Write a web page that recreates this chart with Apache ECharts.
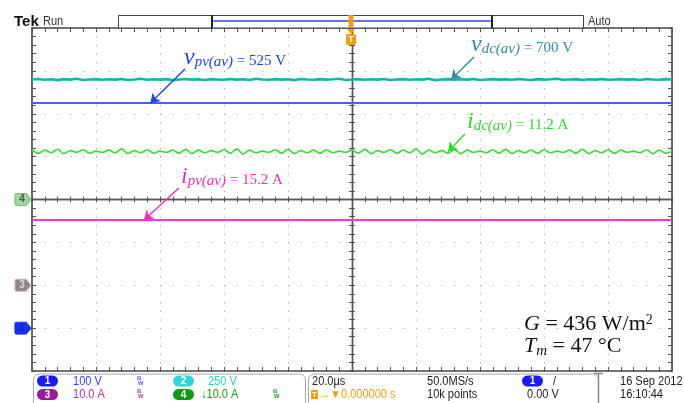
<!DOCTYPE html>
<html>
<head>
<meta charset="utf-8">
<script src="https://cdn.jsdelivr.net/npm/echarts@6/dist/echarts.min.js"></script>
<style>
  html, body { margin: 0; padding: 0; background: #fff; }
  #scope { width: 684px; height: 403px; }
</style>
</head>
<body>
<div id="scope"></div>
<script>
// ---- Acquisition: 20 µs/div, 10 divisions, trigger at screen centre ----
const timeUs = [
  -100,-98,-96,-94,-92,-90,-88,-86,-84,-82,-80,-78,-76,-74,-72,-70,-68,-66,-64,-62,
  -60,-58,-56,-54,-52,-50,-48,-46,-44,-42,-40,-38,-36,-34,-32,-30,-28,-26,-24,-22,
  -20,-18,-16,-14,-12,-10,-8,-6,-4,-2,0,2,4,6,8,10,12,14,16,18,
  20,22,24,26,28,30,32,34,36,38,40,42,44,46,48,50,52,54,56,58,
  60,62,64,66,68,70,72,74,76,78,80,82,84,86,88,90,92,94,96,98,
  100
];
const flatTimeUs = [-100, -60, -20, 20, 60, 100];

// ---- Channel settings: scale per division and ground marker (in divisions) ----
const channelIds   = ['1', '2', '3', '4'];
const unitsPerDiv  = [100, 250, 10, 10];
const groundDiv    = [-3, 0, -2, 0];

// ---- Measured waveforms ----
// CH1: PV voltage (V)
const vpvVolts = [525, 525, 525, 525, 525, 525];
// CH2: DC-link voltage (V)
const vdcVolts = [
  700,703,698,701,696,702,699,704,697,700,702,698,701,699,703,697,700,704,698,701,
  699,702,696,700,703,699,701,697,702,700,698,703,699,701,697,704,700,698,702,699,
  701,696,703,700,698,702,699,701,704,697,700,702,698,701,699,703,697,700,702,698,
  701,699,704,696,700,702,698,701,699,703,697,700,702,699,701,698,703,700,697,702,
  699,701,704,698,700,702,697,701,699,703,698,700,702,699,701,697,703,700,698,702,
  700
];
// CH3: PV current (A)
const ipvAmps = [15.2, 15.2, 15.2, 15.2, 15.2, 15.2];
// CH4: DC-link current (A)
const idcAmps = [
  11.6,10.8,11.5,10.9,11.7,10.7,11.4,11.0,11.6,10.8,11.3,11.0,11.5,10.9,11.8,10.7,11.4,10.9,11.6,10.8,
  11.3,11.0,11.5,10.8,11.7,10.7,11.5,10.9,11.4,11.0,11.6,10.8,11.8,10.6,11.5,10.9,11.3,11.0,11.6,10.8,
  11.7,10.7,11.4,10.9,11.5,10.8,11.6,10.9,11.3,11.0,11.5,10.8,11.7,10.7,11.4,11.0,11.6,10.8,11.5,10.9,
  11.8,10.6,11.5,10.9,11.4,10.8,11.6,10.7,11.5,11.0,11.3,10.9,11.6,10.8,11.7,10.7,11.4,10.9,11.5,10.8,
  11.6,10.9,11.3,11.0,11.5,10.8,11.7,10.7,11.4,10.9,11.6,10.8,11.5,11.0,11.3,10.9,11.6,10.7,11.5,10.8,
  11.2
];

// Average values quoted next to each trace, and where their arrows land (µs)
const avgVpv = 525, avgVdc = 700, avgIdc = 11.2, avgIpv = 15.2;
const arrowTimeUs = { vpv: -63, vdc: 31, idc: 30, ipv: -65 };

// Screen settings
const statusTop = ['100 V', '250 V'];
const statusBottom = ['10.0 A', '\u219310.0 A'];

const pairs = (t, v) => t.map((x, i) => [x, v[i]]);

const chart = echarts.init(document.getElementById('scope'), null, { renderer: 'canvas' });

const tickStyle = { color: '#555', width: 1 };
const serif = '"Liberation Serif", "Times New Roman", serif';
const sans = '"Liberation Sans", Arial, sans-serif';

function gratX(position, lineCfg, tickLen, inside, split) {
  return {
    type: 'value', min: -100, max: 100, interval: 20, position,
    axisLabel: { show: false },
    axisLine: lineCfg,
    axisTick: { show: true, inside, length: tickLen, lineStyle: tickStyle },
    minorTick: { show: true, splitNumber: 5, length: tickLen, lineStyle: tickStyle },
    splitLine: split || { show: false }
  };
}
function gratY(position, lineCfg, tickLen, inside, split) {
  return {
    type: 'value', min: -4, max: 4, interval: 1, position,
    axisLabel: { show: false },
    axisLine: lineCfg,
    axisTick: { show: true, inside, length: tickLen, lineStyle: tickStyle },
    minorTick: { show: true, splitNumber: 5, length: tickLen, lineStyle: tickStyle },
    splitLine: split || { show: false }
  };
}
const borderLine = { show: true, onZero: false, lineStyle: { color: '#444', width: 1.6 } };
const centreLine = { show: true, onZero: true, onZeroAxisIndex: 0, lineStyle: { color: '#555', width: 1.4 } };

// One hidden value axis per channel, spanning the 8 vertical divisions
const channelAxes = channelIds.map((id, i) => ({
  type: 'value', show: false,
  min: (-4 - groundDiv[i]) * unitsPerDiv[i],
  max: (4 - groundDiv[i]) * unitsPerDiv[i]
}));

const groundPath = 'path://M2,0 L11,0 L16,6 L11,12 L2,12 Q0,12 0,10 L0,2 Q0,0 2,0 Z';
function groundMarker(label, fill, border, textColor) {
  return {
    silent: true, animation: false,
    symbol: groundPath, symbolSize: [16, 12], symbolOffset: [-9, 0],
    itemStyle: { color: fill, borderColor: border, borderWidth: 1 },
    label: { show: true, position: 'inside', formatter: label, color: textColor,
             fontSize: 10, fontWeight: 'bold', fontFamily: sans, offset: [-1, 0] },
    data: [{ coord: [-100, 0] }]
  };
}
function pointer(color, from, to) {
  return {
    silent: true, animation: false,
    symbol: ['none', 'arrow'], symbolSize: 9,
    label: { show: false },
    lineStyle: { color, width: 1.4, type: 'solid' },
    emphasis: { disabled: true },
    data: [[{ x: from[0], y: from[1] }, { coord: to }]]
  };
}
function trace(name, axisIdx, data, color, width, extra) {
  return Object.assign({
    name, type: 'line', xAxisIndex: 0, yAxisIndex: axisIdx, data,
    showSymbol: false, symbol: 'none', clip: false, silent: true, animation: false,
    lineStyle: { color, width }
  }, extra);
}

// Rich-text label: large italic symbol, italic subscript, upright remainder
function annot(x, yBottom, color, big, sub, rest) {
  return {
    type: 'text', x, y: yBottom, z: 20, silent: true,
    style: {
      text: '{a|' + big + '}{b|' + sub + '}{c|' + rest + '}',
      align: 'left', verticalAlign: 'bottom',
      rich: {
        a: { font: 'italic 24px ' + serif, fill: color, lineHeight: 24, verticalAlign: 'bottom' },
        b: { font: 'italic 15px ' + serif, fill: color, lineHeight: 15, verticalAlign: 'bottom' },
        c: { font: '15px ' + serif, fill: color, lineHeight: 15, verticalAlign: 'bottom', padding: [0, 0, 1, 0] }
      }
    }
  };
}
function sText(str, x, y, color, size, weight) {
  return { type: 'text', x, y, scaleX: 0.92, z: 20, silent: true,
    style: { text: str, fill: color, font: (weight || 'normal') + ' ' + (size || 12) + 'px ' + sans,
             align: 'left', verticalAlign: 'middle' } };
}
function badge(label, x, y, fill) {
  return { type: 'group', x, y, z: 20, silent: true, children: [
    { type: 'rect', shape: { x: 0, y: -5.5, width: 21, height: 11, r: 5.5 }, style: { fill } },
    { type: 'text', x: 10.5, y: 0.5, style: { text: label, fill: '#fff', font: 'bold 10px ' + sans,
      align: 'center', verticalAlign: 'middle' } }
  ] };
}
function bwIcon(x, y, color) {
  return { type: 'group', x, y, z: 20, silent: true, children: [
    { type: 'text', x: 0, y: -3, style: { text: 'B', fill: color, font: 'bold 6px ' + sans, verticalAlign: 'middle' } },
    { type: 'text', x: 1, y: 2, style: { text: 'w', fill: color, font: 'bold 7px ' + sans, verticalAlign: 'middle' } }
  ] };
}

const orange = '#f39c12';

const option = {
  backgroundColor: '#ffffff',
  animation: false,
  grid: { left: 32, top: 28, width: 640, height: 343, containLabel: false, outerBoundsMode: 'none' },
  xAxis: [
    gratX('bottom', borderLine, 4, true,
      { show: true, lineStyle: { color: '#9a9a9a', width: 1, type: [1, 7.575] } }),
    gratX('top', borderLine, 4, true),
    gratX('bottom', centreLine, 3, true),
    gratX('bottom', centreLine, 3, false)
  ],
  yAxis: [
    gratY('left', borderLine, 4, true,
      { show: true, lineStyle: { color: '#9a9a9a', width: 1, type: [1, 11.8] } }),
    gratY('right', borderLine, 4, true),
    gratY('left', centreLine, 3, true),
    gratY('left', centreLine, 3, false)
  ].concat(channelAxes),
  series: [
    trace('vdc', 5, pairs(timeUs, vdcVolts), '#1fb0aa', 2.6, {
      markLine: pointer('#2f8ca6', [474, 57], [arrowTimeUs.vdc, avgVdc])
    }),
    trace('vpv', 4, pairs(flatTimeUs, vpvVolts), '#4d5ef2', 2, {
      markPoint: groundMarker('1', '#1530ff', '#1a2ad0', '#1a2290'),
      markLine: pointer('#1f45d6', [185, 69], [arrowTimeUs.vpv, avgVpv])
    }),
    trace('idc', 7, pairs(timeUs, idcAmps), '#3cdc35', 1.7, {
      smooth: 0.35,
      markPoint: groundMarker('4', '#9fd69f', '#7cbf7c', '#555'),
      markLine: pointer('#2ed82e', [465, 134], [arrowTimeUs.idc, avgIdc])
    }),
    trace('ipv', 6, pairs(flatTimeUs, ipvAmps), '#f03ae0', 2, {
      markPoint: groundMarker('3', '#8a8a8a', '#e79ad8', '#ddd'),
      markLine: pointer('#ea2fc4', [179, 188], [arrowTimeUs.ipv, avgIpv])
    })
  ],
  graphic: [
    // Header
    { type: 'text', x: 14, y: 21.5, z: 20, style: { text: 'Tek', fill: '#111', font: 'bold 15px ' + sans, verticalAlign: 'middle' } },
    sText('Run', 43, 22, '#333', 12),
    { type: 'rect', z: 20, shape: { x: 118.5, y: 15.5, width: 465, height: 12.5 }, style: { fill: '#fff', stroke: '#444', lineWidth: 1 } },
    { type: 'line', z: 21, shape: { x1: 212, y1: 21, x2: 492, y2: 21 }, style: { stroke: '#6272f2', lineWidth: 2.2 } },
    { type: 'line', z: 21, shape: { x1: 212, y1: 15, x2: 212, y2: 28 }, style: { stroke: '#222', lineWidth: 2 } },
    { type: 'line', z: 21, shape: { x1: 492, y1: 15, x2: 492, y2: 28 }, style: { stroke: '#222', lineWidth: 2 } },
    { type: 'rect', z: 22, shape: { x: 348.5, y: 15, width: 5, height: 13 }, style: { fill: orange } },
    sText('Auto', 588, 22, '#333', 12),
    // Trigger position marker
    { type: 'polygon', z: 22, shape: { points: [[347, 29], [355, 29], [351, 34]] }, style: { fill: orange } },
    { type: 'rect', z: 22, shape: { x: 346, y: 34, width: 10, height: 11, r: 2 }, style: { fill: orange } },
    { type: 'text', z: 23, x: 351, y: 40, style: { text: 'T', fill: '#fff', font: 'bold 9px ' + sans, align: 'center', verticalAlign: 'middle' } },

    // Trace annotations
    annot(184, 70, '#1f45d6', 'v', 'pv(av)', ' = ' + avgVpv + ' V'),
    annot(471, 57, '#2f8ca6', 'v', 'dc(av)', ' = ' + avgVdc + ' V'),
    annot(467, 134, '#2ed82e', 'i', 'dc(av)', ' = ' + avgIdc.toFixed(1) + ' A'),
    annot(181, 189, '#ea2fc4', 'i', 'pv(av)', ' = ' + avgIpv.toFixed(1) + ' A'),

    // Test conditions
    { type: 'text', x: 524, y: 335, z: 20, silent: true, style: {
        text: '{a|G}{c| = 436 W/m}{s|2}', align: 'left', verticalAlign: 'bottom',
        rich: {
          a: { font: 'italic 22px ' + serif, fill: '#111', lineHeight: 22, verticalAlign: 'bottom' },
          c: { font: '22px ' + serif, fill: '#111', lineHeight: 22, verticalAlign: 'bottom' },
          s: { font: '14px ' + serif, fill: '#111', lineHeight: 14, verticalAlign: 'top' }
        } } },
    { type: 'text', x: 524, y: 357, z: 20, silent: true, style: {
        text: '{a|T}{b|m}{c| = 47 \u00b0C}', align: 'left', verticalAlign: 'bottom',
        rich: {
          a: { font: 'italic 22px ' + serif, fill: '#111', lineHeight: 22, verticalAlign: 'bottom' },
          b: { font: 'italic 15px ' + serif, fill: '#111', lineHeight: 15, verticalAlign: 'bottom', padding: [0, 0, -2, 0] },
          c: { font: '22px ' + serif, fill: '#111', lineHeight: 22, verticalAlign: 'bottom' }
        } } },

    // Status panels
    { type: 'rect', z: 19, shape: { x: 33.5, y: 374, width: 272, height: 40, r: 6 }, style: { fill: 'none', stroke: '#a8a8a8', lineWidth: 1 } },
    { type: 'rect', z: 19, shape: { x: 308.5, y: 374, width: 290, height: 40, r: 6 }, style: { fill: 'none', stroke: '#a8a8a8', lineWidth: 1 } },
    { type: 'line', z: 19, shape: { x1: 598.5, y1: 373, x2: 598.5, y2: 403 }, style: { stroke: '#888', lineWidth: 1.5 } },
    { type: 'line', z: 19, shape: { x1: 594, y1: 373.5, x2: 603, y2: 373.5 }, style: { stroke: '#888', lineWidth: 1.5 } },

    badge(channelIds[0], 37, 381, '#1a1aff'),
    sText(statusTop[0], 73, 381.5, '#3c3cff'),
    bwIcon(137, 381, '#6060ff'),
    badge(channelIds[1], 173, 381, '#33d6d6'),
    sText(statusTop[1], 208, 381.5, '#2fcccc'),

    badge(channelIds[2], 37, 394.5, '#9a1a9a'),
    sText(statusBottom[0], 73, 395, '#b030b0'),
    bwIcon(137, 394.5, '#b040b0'),
    badge(channelIds[3], 173, 394.5, '#129912'),
    sText(statusBottom[1], 201, 395, '#129912'),
    bwIcon(273, 394.5, '#20a020'),

    sText('20.0\u00b5s', 312, 381.5, '#222'),
    { type: 'rect', z: 20, shape: { x: 311, y: 390, width: 7, height: 9, r: 1 }, style: { fill: orange } },
    { type: 'text', z: 21, x: 314.5, y: 395, style: { text: 'T', fill: '#fff', font: 'bold 8px ' + sans, align: 'center', verticalAlign: 'middle' } },
    sText('\u2192\u25bc0.000000 s', 319, 395, orange),
    sText('50.0MS/s', 427, 381.5, '#222'),
    sText('10k points', 427, 395, '#222'),
    badge(channelIds[0], 522, 381, '#1a1aff'),
    sText('/', 553, 381.5, '#222'),
    sText('0.00 V', 527, 395, '#222'),
    sText('16 Sep 2012', 620, 381.5, '#222'),
    sText('16:10:44', 620, 395, '#222')
  ]
};

chart.setOption(option);
</script>
</body>
</html>
